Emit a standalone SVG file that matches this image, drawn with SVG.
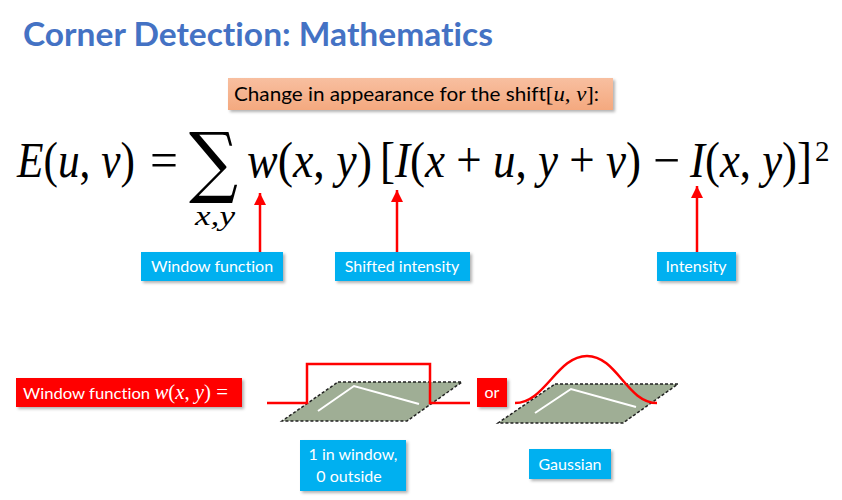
<svg xmlns="http://www.w3.org/2000/svg" width="842" height="500" viewBox="0 0 842 500">
<defs>
<style>
.sans{font-family:Lato,"Open Sans","Liberation Sans",sans-serif;font-variant-ligatures:none}
.math{font-family:"Liberation Serif","DejaVu Serif",serif}
.it{font-style:italic}
.blk{fill:#000}
.wht{fill:#fff}
.lbl{fill:#fff;font-size:16px}
.cyan{fill:#00B0F0}
.redbox{fill:#FF0000}
.arrow{stroke:#FF0000;stroke-width:2.5;fill:none}
.plane{fill:#9FAE95;stroke:#222;stroke-width:1.5;stroke-dasharray:3 2}
.edge{stroke:#fff;stroke-width:2;fill:none}
.curve{stroke:#FF0000;stroke-width:2.5;fill:none}
</style>
<marker id="ah" markerWidth="12" markerHeight="12" refX="10" refY="5" orient="auto" markerUnits="userSpaceOnUse" viewBox="0 0 10 10">
<path d="M0,0 L10,5 L0,10 Z" fill="#FF0000"/>
</marker>
<filter id="sh" x="-10%" y="-10%" width="130%" height="140%">
<feDropShadow dx="2" dy="2" stdDeviation="1.5" flood-color="#000" flood-opacity="0.3"/>
</filter>
<linearGradient id="salmon" x1="0" y1="0" x2="0" y2="1">
<stop offset="0" stop-color="#F8BFA0"/>
<stop offset="1" stop-color="#F4A97F"/>
</linearGradient>
</defs>
<rect width="842" height="500" fill="#fff"/>

<g id="title">
<text class="sans" x="23" y="46" font-size="32" font-weight="bold" fill="#4472C4" textLength="470" lengthAdjust="spacingAndGlyphs">Corner Detection: Mathematics</text>
</g>

<g id="shift-note">
<rect x="228" y="78" width="385" height="32" fill="url(#salmon)" filter="url(#sh)"/>
<text class="sans blk" x="234" y="101" font-size="20" textLength="365" lengthAdjust="spacingAndGlyphs">Change in appearance for the shift<tspan class="math" font-size="22">[<tspan class="it">u</tspan>, <tspan class="it">v</tspan>]</tspan>:</text>
</g>

<g id="equation" class="math blk" font-size="50">
<text x="17" y="177" textLength="118" lengthAdjust="spacingAndGlyphs"><tspan class="it">E</tspan>(<tspan class="it">u</tspan>, <tspan class="it">v</tspan>)</text>
<text x="150" y="177" textLength="28" lengthAdjust="spacingAndGlyphs">=</text>
<text x="189" y="188" font-size="78" font-family="DejaVu Serif,serif" textLength="49" lengthAdjust="spacingAndGlyphs">∑</text>
<text x="195" y="225" font-size="27" class="it" textLength="40" lengthAdjust="spacingAndGlyphs">x,y</text>
<text x="247" y="177" textLength="125" lengthAdjust="spacingAndGlyphs"><tspan class="it">w</tspan>(<tspan class="it">x</tspan>, <tspan class="it">y</tspan>)</text>
<text x="380" y="177" textLength="261" lengthAdjust="spacingAndGlyphs">[<tspan class="it">I</tspan>(<tspan class="it">x</tspan> + <tspan class="it">u</tspan>, <tspan class="it">y</tspan> + <tspan class="it">v</tspan>)</text>
<text x="653" y="177" textLength="27" lengthAdjust="spacingAndGlyphs">−</text>
<text x="690" y="177" textLength="122" lengthAdjust="spacingAndGlyphs"><tspan class="it">I</tspan>(<tspan class="it">x</tspan>, <tspan class="it">y</tspan>)]</text>
<text x="815" y="161" font-size="29">2</text>
</g>

<g id="connectors">
<line class="arrow" x1="260" y1="253" x2="260" y2="193" marker-end="url(#ah)"/>
<line class="arrow" x1="397" y1="253" x2="397" y2="190" marker-end="url(#ah)"/>
<line class="arrow" x1="697" y1="253" x2="697" y2="186" marker-end="url(#ah)"/>
</g>

<g id="label-window">
<rect class="cyan" x="141" y="252" width="142" height="29" filter="url(#sh)"/>
<text class="sans lbl" x="212" y="272" text-anchor="middle">Window function</text>
</g>
<g id="label-shifted">
<rect class="cyan" x="335" y="252" width="135" height="29" filter="url(#sh)"/>
<text class="sans lbl" x="402" y="272" text-anchor="middle">Shifted intensity</text>
</g>
<g id="label-intensity">
<rect class="cyan" x="657" y="252" width="79" height="29" filter="url(#sh)"/>
<text class="sans lbl" x="696" y="272" text-anchor="middle">Intensity</text>
</g>

<g id="window-def">
<rect class="redbox" x="16" y="378" width="226" height="29" filter="url(#sh)"/>
<text class="sans lbl" x="23" y="399" font-size="17" textLength="205" lengthAdjust="spacingAndGlyphs">Window function <tspan class="math it wht" font-size="20">w</tspan><tspan class="math wht" font-size="20">(<tspan class="it">x</tspan>, <tspan class="it">y</tspan>) =</tspan></text>
</g>

<g id="box-window">
<polygon class="plane" points="338,382 462,382 407,421 282,421"/>
<polyline class="edge" points="318,411 354,386 419,404"/>
<polyline class="curve" points="267,403 307,403 307,364 430,364 430,403 470,403"/>
</g>

<g id="or">
<rect class="redbox" x="477" y="378" width="30" height="29" filter="url(#sh)"/>
<text class="sans lbl" x="492" y="398" text-anchor="middle">or</text>
</g>

<g id="gaussian-window">
<polygon class="plane" points="555,384 678,384 623,423 498,423"/>
<polyline class="edge" points="535,413 571,389 636,407"/>
<path class="curve" d="M515,403 C545,403 557,356 587,356 C617,356 627,403 657,403"/>
</g>

<g id="label-box">
<rect class="cyan" x="300" y="440" width="106" height="51" filter="url(#sh)"/>
<text class="sans lbl" x="353" y="460" text-anchor="middle">1 in window,</text>
<text class="sans lbl" x="349" y="482" text-anchor="middle">0 outside</text>
</g>
<g id="label-gaussian">
<rect class="cyan" x="529" y="449" width="82" height="30" filter="url(#sh)"/>
<text class="sans lbl" x="570" y="470" text-anchor="middle">Gaussian</text>
</g>
</svg>
